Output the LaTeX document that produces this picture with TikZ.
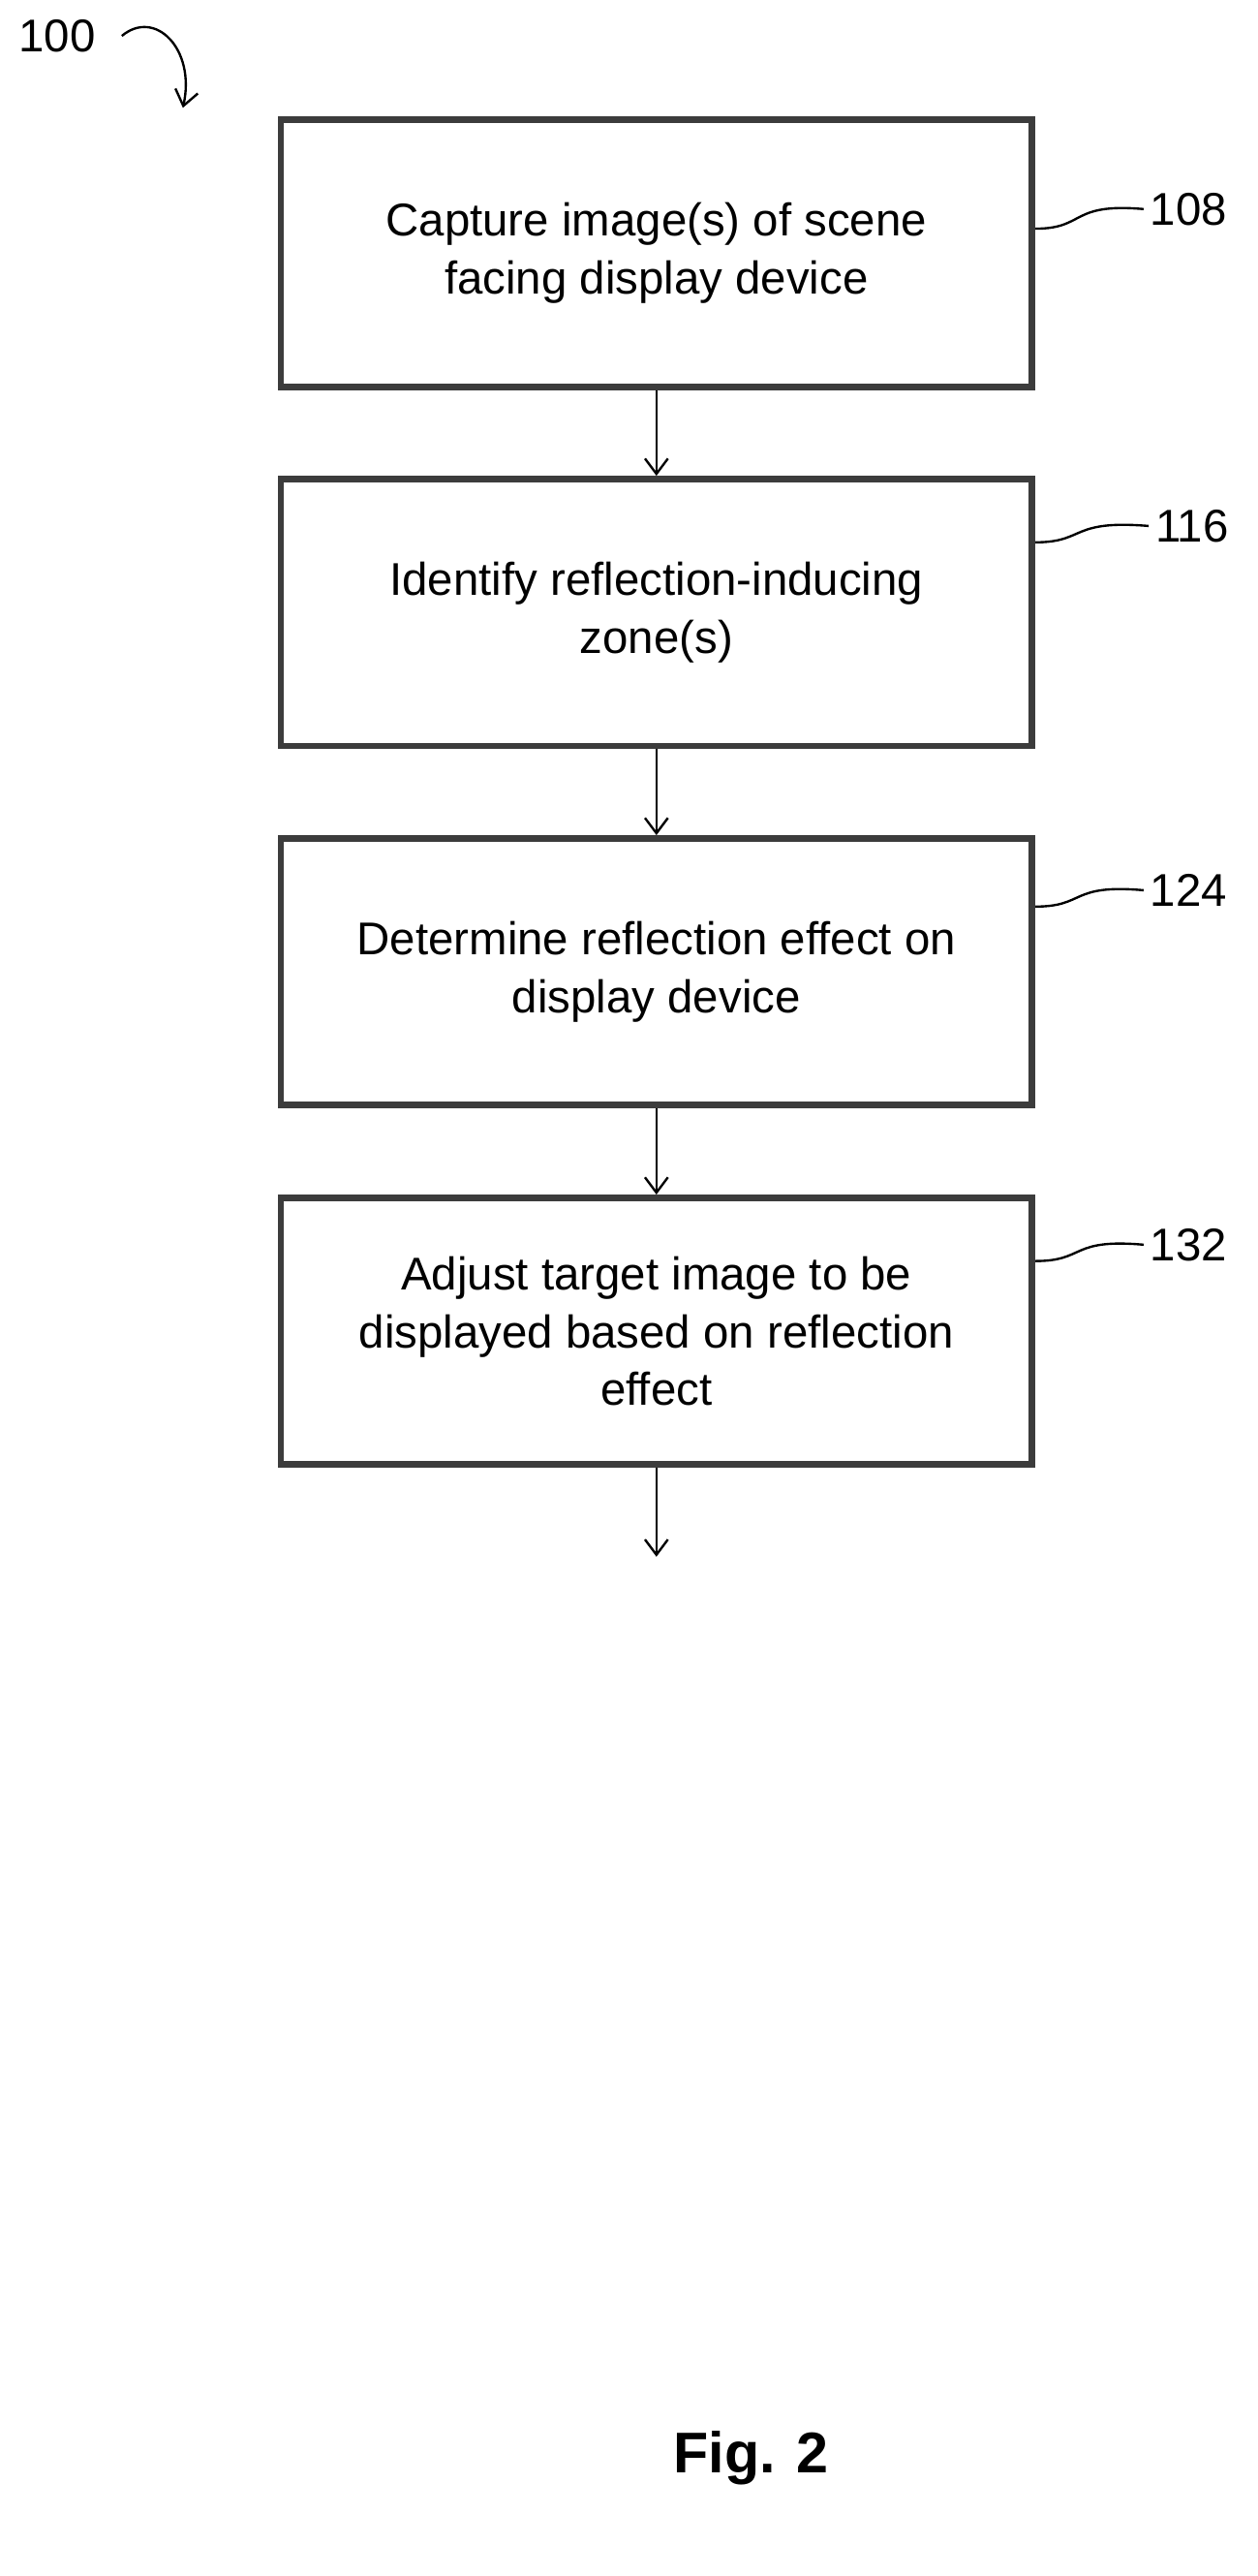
\documentclass[tikz,border=0pt]{standalone}
\usepackage{fontspec}
\setmainfont{Liberation Sans}
\usetikzlibrary{positioning, arrows.meta}
\definecolor{box_grey}{RGB}{60, 60, 60}

\tikzset{
  stepbox/.style={draw=box_grey, line width=3.5pt, minimum width=13.8cm, minimum height=4.9cm,
    align=center, font=\fontsize{24}{30}\selectfont, inner sep=0pt},
  flow/.style={->, line width=1.2pt, >={Straight Barb[length=8pt, width=12pt]}},
  ref/.style={font=\fontsize{24}{28}\selectfont},
  lead/.style={line width=1.2pt}
}

\begin{document}
\begin{tikzpicture}[x=0.03cm, y=-0.03cm]
				\useasboundingbox (0,0) rectangle (770,1577);
				
				% flow chart steps
				\node[stepbox] (capture) at (402,155) {Capture image(s) of scene\\facing display device};
				\node[stepbox] (identify) at (402,375) {Identify reflection-inducing\\zone(s)};
				\node[stepbox] (effect) at (402,595) {Determine reflection effect on\\display device};
				\node[stepbox] (adjust) at (402,815) {Adjust target image to be\\displayed based on reflection\\effect};
				\coordinate (out) at (402,953);
				
				\draw[flow] (capture) -- (identify);
				\draw[flow] (identify) -- (effect);
				\draw[flow] (effect) -- (adjust);
				\draw[flow] (adjust) -- (out);
				
				% reference numerals
				\node[ref] (n100) at (35,22) {100};
				\node[ref] (n108) at (728,128) {108};
				\node[ref] (n116) at (730,322) {116};
				\node[ref] (n124) at (728,545) {124};
				\node[ref] (n132) at (728,762) {132};
				
				\draw[flow] (n100.east) ++(12,0) .. controls (95,5) and (120,30) .. (112,66);
				
				\draw[lead] (capture.east |- 0,140) .. controls (665,140) and (655,124) .. (n108.west);
				\draw[lead] (identify.east |- 0,332) .. controls (665,332) and (655,318) .. (n116.west);
				\draw[lead] (effect.east |- 0,555) .. controls (665,555) and (655,541) .. (n124.west);
				\draw[lead] (adjust.east |- 0,772) .. controls (665,772) and (655,758) .. (n132.west);
				
				% figure label
				\node[font=\bfseries\fontsize{30}{34}\selectfont] (fig) at (460,1505) {Fig. 2};
				
				\end{tikzpicture}
\end{document}
